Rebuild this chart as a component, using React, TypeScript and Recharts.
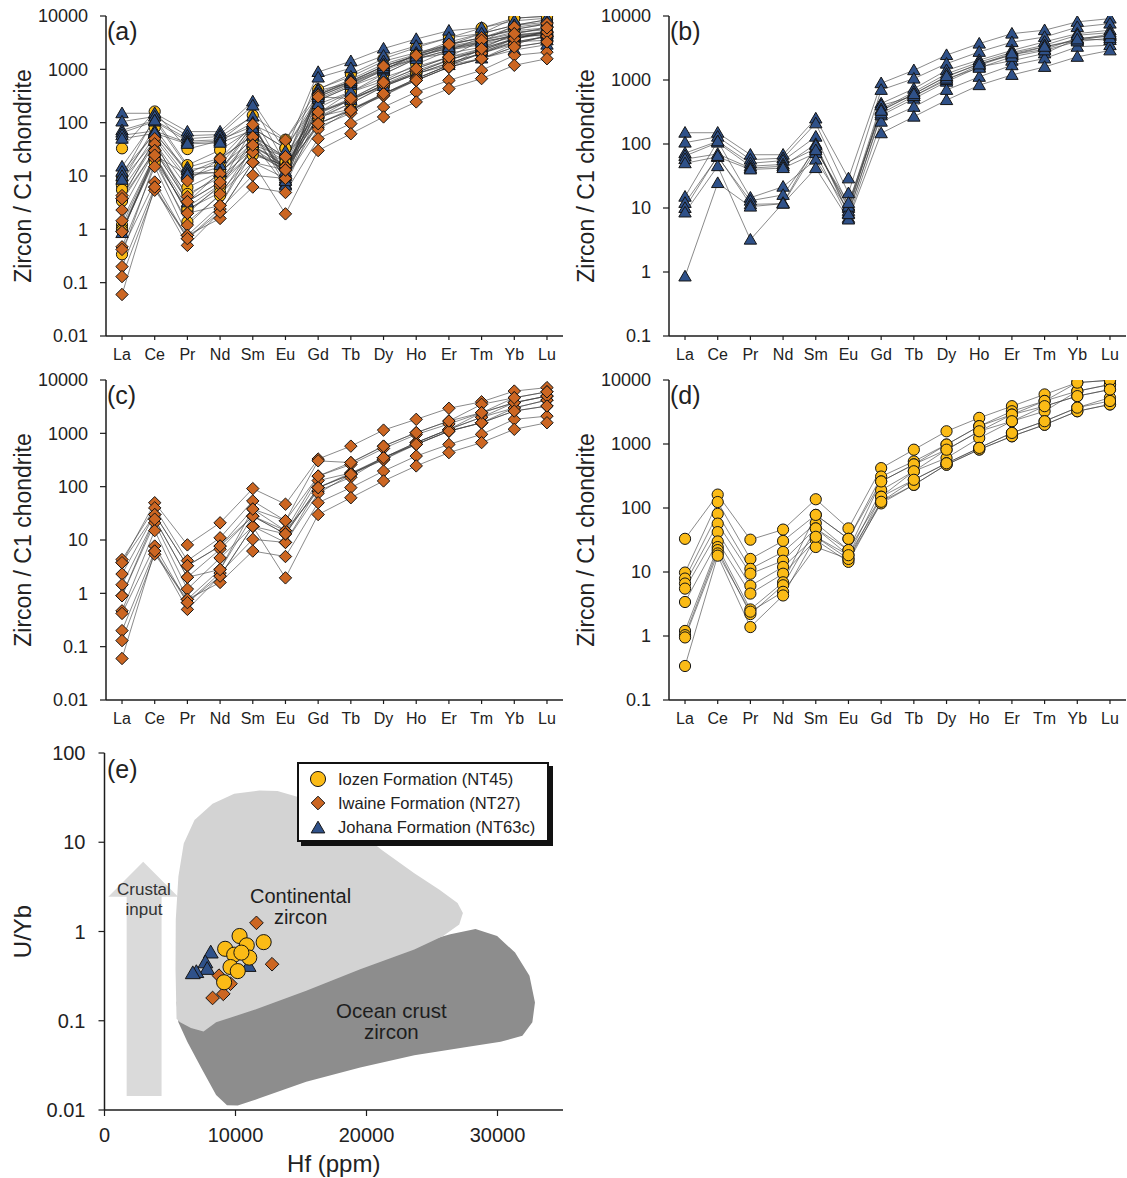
import React from 'react';
import { LineChart, Line, XAxis, YAxis, ScatterChart, Scatter, Legend } from 'recharts';

const FONT = '"Liberation Sans", Arial, Helvetica, sans-serif';
const AXIS = '#1c1c1c';
const TEXT = '#222';
const YELLOW = '#fbbb16';
const ORANGE = '#cc6622';
const BLUE = '#2f5189';
const EDGE = '#151515';

// ---------- categories ----------
const ELEMENTS = ['La', 'Ce', 'Pr', 'Nd', 'Sm', 'Eu', 'Gd', 'Tb', 'Dy', 'Ho', 'Er', 'Tm', 'Yb', 'Lu'];
const IDX_TICKS = ELEMENTS.map((_, i) => i);
const Y_TICKS_LONG = [0.01, 0.1, 1, 10, 100, 1000, 10000];
const Y_TICKS_SHORT = [0.1, 1, 10, 100, 1000, 10000];

// ---------- Johana Formation (NT63c), chondrite-normalised ----------
const JOHANA = [
  [150, 150, 68, 68, 250, 29, 890, 1420, 2450, 3700, 5300, 6000, 8100, 9100],
  [105, 130, 57, 60, 210, 17, 700, 1050, 1800, 2750, 3900, 4700, 6700, 7600],
  [72, 110, 50, 55, 130, 11, 430, 730, 1420, 2050, 2900, 3950, 5300, 6000],
  [65, 105, 45, 48, 85, 10, 335, 610, 1120, 1800, 2450, 3300, 4150, 5000],
  [58, 70, 42, 45, 100, 8.3, 280, 510, 940, 1600, 2000, 2600, 4400, 4200],
  [50, 63, 40, 42, 72, 7, 223, 380, 700, 1120, 1700, 2170, 3300, 3500],
  [15, 110, 14.5, 21.5, 57, 9, 400, 560, 1000, 1700, 2500, 3000, 4500, 4800],
  [12, 63, 13, 16, 85, 10.5, 350, 650, 1250, 1900, 2700, 3500, 5000, 5500],
  [10, 65, 11.4, 11.7, 42, 6.6, 147, 267, 485, 830, 1200, 1600, 2300, 2900],
  [8.5, 45, 3.2, 12, 95, 8, 300, 560, 1050, 1550, 2300, 2900, 4000, 4500],
  [0.85, 24.5, 10.5, 11.7, 80, 12, 330, 600, 1150, 1750, 2600, 3300, 4300, 5200],
];

// ---------- Iwaine Formation (NT27) ----------
const IWAINE = [
  [3.76, 50, 8.1, 21, 92, 47, 330, 575, 1150, 1830, 2950, 3900, 6200, 7200],
  [4.3, 40, 4.1, 11, 54, 23, 305, 283, 575, 1030, 1700, 3500, 4650, 6000],
  [2.3, 30, 3.3, 7.7, 38, 15, 158, 260, 520, 950, 1500, 2440, 3760, 5000],
  [1.45, 24.6, 2.0, 6.7, 28, 13, 130, 180, 350, 670, 1190, 2000, 3000, 4200],
  [0.9, 21, 1.2, 4.6, 18, 9, 96, 170, 320, 620, 1100, 1580, 2620, 3250],
  [0.47, 15, 0.77, 2.8, 28, 15, 83, 150, 350, 670, 1190, 2000, 3760, 5000],
  [0.42, 7.7, 0.67, 2.4, 10.3, 9, 75, 170, 350, 620, 1100, 1580, 3000, 4200],
  [0.2, 6.2, 0.5, 2.1, 18, 13, 96, 180, 320, 670, 1190, 2440, 3760, 5000],
  [0.13, 5.4, 0.77, 1.6, 6.2, 4.9, 50, 96, 196, 375, 620, 960, 1830, 2100],
  [0.06, 6.2, 0.67, 2.1, 18, 1.95, 30, 62, 128, 245, 435, 670, 1190, 1580],
  [3.76, 30, 3.3, 7.7, 28, 13, 96, 170, 350, 620, 1100, 1580, 2620, 3250],
  [0.9, 24.6, 2.0, 2.8, 38, 23, 158, 283, 575, 1030, 1700, 2440, 4650, 6000],
];

// ---------- Iozen Formation (NT45) ----------
const IOZEN = [
  [33, 162, 32, 46, 137, 48, 420, 815, 1580, 2560, 3900, 5950, 9100, 9900],
  [9.8, 124, 16, 30.6, 78, 33, 310, 535, 980, 1900, 3250, 4700, 6700, 8500],
  [7.9, 81, 11.2, 20.6, 58, 22, 260, 480, 815, 1580, 2880, 3900, 5600, 7100],
  [6.6, 57, 9.4, 15, 48, 18.3, 190, 375, 605, 1240, 2270, 3250, 6700, 8500],
  [5.5, 42, 6.1, 12, 35.5, 16, 150, 276, 500, 870, 1490, 2270, 3700, 5300],
  [3.4, 30, 4.6, 9.4, 31.6, 14.4, 125, 230, 475, 820, 1320, 2000, 3250, 4150],
  [1.2, 24.5, 2.6, 6.9, 78, 33, 260, 480, 980, 1900, 2880, 4700, 9100, 9900],
  [1.03, 22, 2.2, 6.2, 48, 22, 150, 375, 815, 1580, 2270, 3900, 5600, 7100],
  [0.95, 19.5, 2.4, 4.9, 24.6, 16, 118, 230, 475, 820, 1320, 2000, 3250, 4150],
  [0.34, 18, 1.38, 4.3, 35.5, 18.3, 125, 276, 500, 870, 1490, 2270, 3700, 4700],
];

// ---------- panel (e): Hf (ppm) vs U/Yb ----------
const IOZEN_HF = [10310, 9210, 10860, 12150, 11050, 9900, 10450, 9620, 10170, 9130];
const IOZEN_UYB = [0.89, 0.64, 0.70, 0.76, 0.51, 0.55, 0.58, 0.40, 0.36, 0.27];
const IWAINE_HF = [11600, 12790, 8740, 9620, 9070, 8250];
const IWAINE_UYB = [1.25, 0.43, 0.32, 0.26, 0.20, 0.18];
const JOHANA_HF = [11000, 8110, 7700, 7840, 7010, 6740];
const JOHANA_UYB = [0.41, 0.58, 0.45, 0.38, 0.35, 0.34];

// field outlines
const CONT_HF = [5500, 5420, 5440, 5640, 6050, 6870, 8250, 9900, 11820, 13200, 14850, 16770, 18970, 21170, 23650, 25570, 26950, 27360, 27080, 25850, 23650, 19520, 15400, 11270, 8520, 7560, 6600, 5770];
const CONT_UYB = [0.105, 0.378, 1.36, 4.13, 9.7, 17.7, 27, 35, 38, 37.4, 32, 23.8, 14.9, 8.2, 4.5, 2.94, 2.08, 1.61, 1.2, 0.89, 0.63, 0.378, 0.217, 0.13, 0.096, 0.076, 0.083, 0.096];
const OCEAN_HF = [5770, 14020, 22270, 26400, 28320, 29970, 31340, 32440, 32860, 32660, 31900, 30240, 27770, 23650, 19520, 15400, 11820, 10170, 9350, 8520, 7420, 6320, 5640, 5500];
const OCEAN_UYB = [0.217, 0.318, 0.63, 0.93, 1.07, 0.89, 0.58, 0.32, 0.16, 0.096, 0.068, 0.058, 0.051, 0.041, 0.030, 0.0207, 0.0135, 0.0112, 0.0113, 0.0147, 0.029, 0.058, 0.096, 0.16];
const ARROW_HF = [1690, 4356, 4356, 5620, 2955, 290, 1690];
const ARROW_UYB = [0.01435, 0.01435, 2.45, 2.45, 6.05, 2.45, 2.45];
const E_X_TICKS = [0, 10000, 20000, 30000];
const E_Y_TICKS = [0.01, 0.1, 1, 10, 100];

const LEGEND_NAMES = ['Iozen Formation (NT45)', 'Iwaine Formation (NT27)', 'Johana Formation (NT63c)'];

type Kind = 'circle' | 'diamond' | 'triangle';

const zip = (xs: number[], ys: number[]) => xs.map((hf, i) => ({ hf, uyb: ys[i] }));

function marker(kind: Kind, cx: number, cy: number, scale: number, key?: string) {
  if (cx == null || cy == null || isNaN(cx) || isNaN(cy)) return <g key={key} />;
  if (kind === 'circle') {
    return <circle key={key} cx={cx} cy={cy} r={5.6 * scale} fill={YELLOW} stroke={EDGE} strokeWidth={1} />;
  }
  if (kind === 'diamond') {
    const s = 6.2 * scale;
    return (
      <polygon key={key} points={`${cx},${cy - s} ${cx + s},${cy} ${cx},${cy + s} ${cx - s},${cy}`}
        fill={ORANGE} stroke={EDGE} strokeWidth={1} />
    );
  }
  const s = 6.2 * scale;
  return (
    <polygon key={key} points={`${cx},${cy - s} ${cx + s},${cy + s * 0.72} ${cx - s},${cy + s * 0.72}`}
      fill={BLUE} stroke={EDGE} strokeWidth={1} />
  );
}

interface SeriesDef { key: string; kind: Kind; values: number[] }
const makeSeries = (rows: number[][], prefix: string, kind: Kind): SeriesDef[] =>
  rows.map((values, i) => ({ key: `${prefix}${i + 1}`, kind, values }));

const johanaSeries = makeSeries(JOHANA, 'J', 'triangle');
const iwaineSeries = makeSeries(IWAINE, 'C', 'diamond');
const iozenSeries = makeSeries(IOZEN, 'D', 'circle');

const yLabel = (text: string, x: number, size: number) => (props: any) => {
  const vb = props && props.viewBox ? props.viewBox : { y: 0, height: 0 };
  const cy = (vb.y || 0) + (vb.height || 0) / 2;
  return (
    <text x={x} y={cy} transform={`rotate(-90 ${x} ${cy})`} textAnchor="middle" dominantBaseline="central"
      fontSize={size} fill={TEXT} fontFamily={FONT}>{text}</text>
  );
};

const PanelLabel = ({ text, left, top }: { text: string; left: number; top: number }) => (
  <div style={{ position: 'absolute', left, top, fontSize: 25, lineHeight: '25px', color: TEXT, fontFamily: FONT }}>{text}</div>
);

function SpiderChart({ series, yMin, left, top, label }: { series: SeriesDef[]; yMin: number; left: number; top: number; label: string }) {
  const data = ELEMENTS.map((el, i) => {
    const row: any = { idx: i, el };
    series.forEach((s) => { row[s.key] = s.values[i]; });
    return row;
  });
  const ticks = yMin === 0.01 ? Y_TICKS_LONG : Y_TICKS_SHORT;
  return (
    <div style={{ position: 'absolute', left, top, width: 565, height: 370 }}>
      <LineChart width={565} height={370} data={data} margin={{ top: 16, right: 2, bottom: 0, left: 0 }}>
        <XAxis dataKey="idx" type="number" domain={[-0.49, 13.49]} ticks={IDX_TICKS} interval={0}
          tickFormatter={(v: number) => ELEMENTS[v] ?? ''} height={34} tickSize={4} tickMargin={9}
          tick={{ fontSize: 16, fill: TEXT, fontFamily: FONT }} axisLine={{ stroke: AXIS, strokeWidth: 1.5 }}
          tickLine={{ stroke: AXIS, strokeWidth: 1.2 }} allowDataOverflow />
        <XAxis xAxisId="top" orientation="top" dataKey="idx" type="number" domain={[-0.49, 13.49]} height={0}
          tick={false} tickLine={false} axisLine={{ stroke: AXIS, strokeWidth: 1.5 }} allowDataOverflow />
        <YAxis type="number" scale="log" domain={[yMin, 10000]} ticks={ticks} interval={0} allowDataOverflow
          width={106} tickSize={6} tickMargin={12} tickFormatter={(v: number) => String(v)}
          tick={{ fontSize: 18, fill: TEXT, fontFamily: FONT }} axisLine={{ stroke: AXIS, strokeWidth: 1.5 }}
          tickLine={{ stroke: AXIS, strokeWidth: 1.2 }} label={yLabel('Zircon / C1 chondrite', 23, 23)} />
        <YAxis yAxisId="right" orientation="right" type="number" domain={[0, 1]} width={0} tick={false}
          tickLine={false} axisLine={{ stroke: AXIS, strokeWidth: 1.5 }} />
        {series.map((s) => (
          <Line key={s.key} dataKey={s.key} type="linear" stroke="#3a3a3a" strokeWidth={0.6}
            isAnimationActive={false} activeDot={false}
            dot={(p: any) => marker(s.kind, p.cx, p.cy, 1, `${s.key}-${p.index}`)} />
        ))}
      </LineChart>
      <PanelLabel text={label} left={107} top={19} />
    </div>
  );
}

const polyLine = (fill: string) => (props: any) => {
  const pts = (props && props.points) || [];
  if (!pts.length) return <g />;
  const d = pts.map((p: any, i: number) => `${i ? 'L' : 'M'}${p.x},${p.y}`).join(' ') + ' Z';
  return <path d={d} fill={fill} stroke="none" />;
};
const emptyShape = () => <g />;

const textShape = (lines: string[], size: number, gap: number, color: string) => (p: any) => {
  if (p.cx == null || p.cy == null) return <g />;
  const start = p.cy - ((lines.length - 1) * gap) / 2;
  return (
    <g>
      {lines.map((t, i) => (
        <text key={t} x={p.cx} y={start + i * gap} textAnchor="middle" dominantBaseline="central"
          fontSize={size} fill={color} fontFamily={FONT}>{t}</text>
      ))}
    </g>
  );
};

const kindOf = (name: string): Kind => (name.startsWith('Iozen') ? 'circle' : name.startsWith('Iwaine') ? 'diamond' : 'triangle');

const renderLegend = (props: any) => {
  const payload = (props && props.payload) || [];
  let names = payload.map((p: any) => p.value).filter((v: string) => LEGEND_NAMES.includes(v));
  if (!names.length) names = LEGEND_NAMES;
  names = LEGEND_NAMES.filter((n) => names.includes(n));
  return (
    <div style={{
      boxSizing: 'border-box', width: 252, height: 80, border: '2px solid #111', boxShadow: '4px 4px 0 #111',
      background: '#fff', padding: '3px 0 0 10px', fontFamily: FONT,
    }}>
      {names.map((n: string) => {
        const k = kindOf(n);
        return (
          <div key={n} style={{ display: 'flex', alignItems: 'center', height: 24 }}>
            <svg width={18} height={18} style={{ flex: 'none' }}>
              {marker(k, 9, k === 'triangle' ? 10 : 9, k === 'circle' ? 1.35 : 1.1)}
            </svg>
            <span style={{ marginLeft: 11, fontSize: 16.5, color: TEXT, whiteSpace: 'nowrap' }}>{n}</span>
          </div>
        );
      })}
    </div>
  );
};

function PanelE() {
  const xLabel = (props: any) => {
    const vb = props && props.viewBox ? props.viewBox : { x: 0, y: 0, width: 0 };
    const cx = (vb.x || 0) + (vb.width || 0) / 2;
    return <text x={cx} y={(vb.y || 0) + 53} textAnchor="middle" dominantBaseline="central" fontSize={24} fill={TEXT} fontFamily={FONT}>Hf (ppm)</text>;
  };
  return (
    <div style={{ position: 'absolute', left: 0, top: 735, width: 565, height: 443 }}>
      <ScatterChart width={565} height={443} margin={{ top: 18, right: 2, bottom: 0, left: 0 }}>
        <XAxis dataKey="hf" type="number" domain={[0, 35000]} ticks={E_X_TICKS} interval={0} allowDataOverflow
          height={68} tickSize={6} tickMargin={12} tick={{ fontSize: 20, fill: TEXT, fontFamily: FONT }}
          axisLine={{ stroke: AXIS, strokeWidth: 1.5 }} tickLine={{ stroke: AXIS, strokeWidth: 1.2 }} label={xLabel} />
        <XAxis xAxisId="top" orientation="top" dataKey="hf" type="number" domain={[0, 35000]} height={0}
          tick={false} tickLine={false} axisLine={{ stroke: AXIS, strokeWidth: 1.5 }} allowDataOverflow />
        <YAxis dataKey="uyb" type="number" scale="log" domain={[0.01, 100]} ticks={E_Y_TICKS} interval={0}
          allowDataOverflow width={104.5} tickSize={6} tickMargin={13} tickFormatter={(v: number) => String(v)}
          tick={{ fontSize: 20, fill: TEXT, fontFamily: FONT }} axisLine={{ stroke: AXIS, strokeWidth: 1.5 }}
          tickLine={{ stroke: AXIS, strokeWidth: 1.2 }} label={yLabel('U/Yb', 22, 24)} />
        <YAxis yAxisId="right" orientation="right" type="number" domain={[0, 1]} width={0} tick={false}
          tickLine={false} axisLine={{ stroke: AXIS, strokeWidth: 1.5 }} />

        <Scatter data={zip(ARROW_HF, ARROW_UYB)} line={polyLine('#dadada')} lineType="joint" shape={emptyShape}
          legendType="none" isAnimationActive={false} />
        <Scatter data={zip(OCEAN_HF, OCEAN_UYB)} line={polyLine('#8d8d8d')} lineType="joint" shape={emptyShape}
          legendType="none" isAnimationActive={false} />
        <Scatter data={zip(CONT_HF, CONT_UYB)} line={polyLine('#d3d3d3')} lineType="joint" shape={emptyShape}
          legendType="none" isAnimationActive={false} />

        <Scatter data={[{ hf: 3010, uyb: 2.31 }]} shape={textShape(['Crustal', 'input'], 17, 20, '#333')}
          legendType="none" isAnimationActive={false} />
        <Scatter data={[{ hf: 14970, uyb: 1.9 }]} shape={textShape(['Continental', 'zircon'], 20, 21, '#1e1e1e')}
          legendType="none" isAnimationActive={false} />
        <Scatter data={[{ hf: 21900, uyb: 0.1 }]} shape={textShape(['Ocean crust', 'zircon'], 20.5, 21, '#1e1e1e')}
          legendType="none" isAnimationActive={false} />

        <Scatter name="Johana Formation (NT63c)" data={zip(JOHANA_HF, JOHANA_UYB)} fill={BLUE}
          shape={(p: any) => marker('triangle', p.cx, p.cy, 1.2)} isAnimationActive={false} />
        <Scatter name="Iwaine Formation (NT27)" data={zip(IWAINE_HF, IWAINE_UYB)} fill={ORANGE}
          shape={(p: any) => marker('diamond', p.cx, p.cy, 1.1)} isAnimationActive={false} />
        <Scatter name="Iozen Formation (NT45)" data={zip(IOZEN_HF, IOZEN_UYB)} fill={YELLOW}
          shape={(p: any) => marker('circle', p.cx, p.cy, 1.35)} isAnimationActive={false} />

        <Legend layout="horizontal" verticalAlign="middle" align="center" content={renderLegend}
          wrapperStyle={{ left: 297, top: 27, width: 252, height: 80, right: 'auto', bottom: 'auto' }} />
      </ScatterChart>
      <PanelLabel text="(e)" left={107} top={22} />
    </div>
  );
}

export default function App() {
  return (
    <div style={{ position: 'absolute', left: 0, top: 0, width: 1127, height: 1178, background: '#fff', fontFamily: FONT, overflow: 'hidden' }}>
      <SpiderChart series={[...iozenSeries, ...johanaSeries, ...iwaineSeries]} yMin={0.01} left={0} top={0} label="(a)" />
      <SpiderChart series={johanaSeries} yMin={0.1} left={563} top={0} label="(b)" />
      <SpiderChart series={iwaineSeries} yMin={0.01} left={0} top={363.5} label="(c)" />
      <SpiderChart series={iozenSeries} yMin={0.1} left={563} top={363.5} label="(d)" />
      <PanelE />
    </div>
  );
}
